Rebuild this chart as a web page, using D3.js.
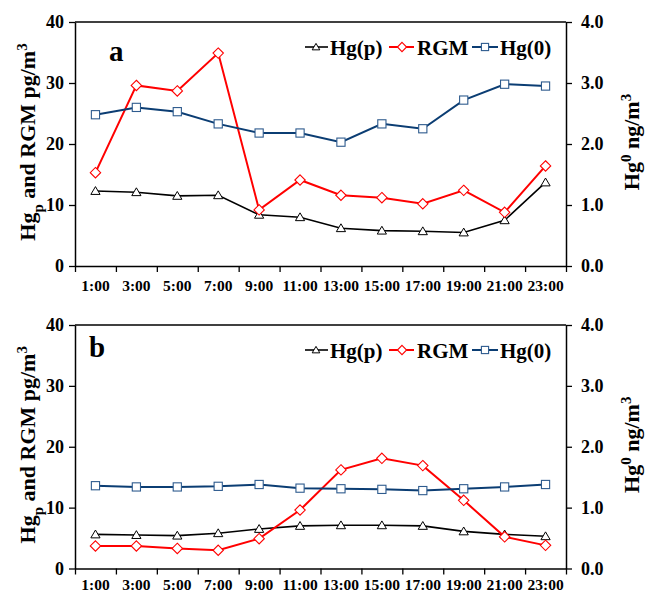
<!DOCTYPE html>
<html><head><meta charset="utf-8">
<script src="https://cdn.jsdelivr.net/npm/d3@7"></script>
<style>
body{margin:0;background:#fff;}
text{font-family:"Liberation Serif","Times New Roman",serif;font-weight:bold;fill:#000;}
</style></head>
<body><svg id="c" width="646" height="594"></svg>
<script>
const hours = ["1:00","3:00","5:00","7:00","9:00","11:00","13:00","15:00","17:00","19:00","21:00","23:00"];
const hgpA = [12.3,12.1,11.5,11.6,8.4,8.0,6.2,5.8,5.7,5.5,7.5,13.7];
const rgmA = [15.3,29.6,28.7,34.9,9.2,14.1,11.6,11.2,10.2,12.4,8.8,16.4];
const hg0A = [2.48,2.60,2.53,2.33,2.18,2.18,2.03,2.33,2.25,2.72,2.98,2.95];
const hgpB = [5.6,5.5,5.4,5.8,6.5,7.0,7.1,7.1,7.0,6.1,5.6,5.3];
const rgmB = [3.7,3.7,3.3,3.0,4.9,9.6,16.2,18.1,16.9,11.2,5.2,3.8];
const hg0B = [1.36,1.34,1.34,1.35,1.38,1.32,1.31,1.30,1.28,1.31,1.34,1.38];
const leftTicks = [0,10,20,30,40];
const rightTicks = [0,1,2,3,4];
const panelLabels = ["a","b"];
const legendNames = ["Hg(p)","RGM","Hg(0)"];

const svg = d3.select("#c");
const X0 = 75, X1 = 566;
const colors = {hgp:"#000", rgm:"#ff0000", hg0:"#0b3d73"};
const markStroke = {hgp:"#000", rgm:"#ff0000", hg0:"#2e5b8e"};

const x = d3.scaleBand().domain(hours).range([X0, X1]);
const xt = d3.scaleLinear().domain([0, hours.length]).range([X0, X1]);

// s = half-size of the marker
function marker(g, type, cx, cy, s) {
  if (type === "hgp") {
    g.append("path").attr("d", `M${cx},${cy - s*0.95}L${cx + s},${cy + s*0.75}L${cx - s},${cy + s*0.75}Z`)
      .attr("fill","#fff").attr("stroke",markStroke.hgp).attr("stroke-width",1);
  } else if (type === "rgm") {
    g.append("path").attr("d", `M${cx},${cy - s}L${cx + s},${cy}L${cx},${cy + s}L${cx - s},${cy}Z`)
      .attr("fill","#fff").attr("stroke",markStroke.rgm).attr("stroke-width",1.1);
  } else {
    g.append("rect").attr("x",cx-s).attr("y",cy-s).attr("width",2*s).attr("height",2*s)
      .attr("fill","#fff").attr("stroke",markStroke.hg0).attr("stroke-width",1.1);
  }
}
const mSize = {hgp:4.6, rgm:5.2, hg0:4.1};
const lSize = {hgp:3.8, rgm:4.6, hg0:3.6};

function panel(top, bottom, label, labX, labY, hgp, rgm, hg0, xpad) {
  const g = svg.append("g");
  const y = d3.scaleLinear().domain([0,40]).range([bottom, top]);
  const y2 = d3.scaleLinear().domain([0,4]).range([bottom, top]);

  g.append("line").attr("x1",X0).attr("x2",X1).attr("y1",top).attr("y2",top).attr("stroke","#000").attr("stroke-width",1.3);

  const la = g.append("g").attr("transform",`translate(${X0},0)`)
    .call(d3.axisLeft(y).tickValues(leftTicks).tickSize(6).tickSizeOuter(0).tickPadding(5));
  la.select(".domain").attr("stroke-width",1.5);
  la.selectAll(".tick line").attr("stroke-width",1.3);
  la.selectAll("text").style("font-size","18px").attr("dy","0.33em");

  const ra = g.append("g").attr("transform",`translate(${X1},0)`)
    .call(d3.axisRight(y2).tickValues(rightTicks).tickFormat(d3.format(".1f")).tickSize(6).tickSizeOuter(0).tickPadding(9));
  ra.select(".domain").attr("stroke-width",1.5);
  ra.selectAll(".tick line").attr("stroke-width",1.3);
  ra.selectAll("text").style("font-size","18px").attr("dy","0.33em");

  const ba = g.append("g").attr("transform",`translate(0,${bottom})`)
    .call(d3.axisBottom(xt).tickValues(d3.range(hours.length+1)).tickSize(6).tickSizeOuter(0).tickFormat(""));
  ba.select(".domain").attr("stroke-width",1.5);
  ba.selectAll(".tick line").attr("stroke-width",1.3);
  const bl = g.append("g").attr("transform",`translate(0,${bottom})`)
    .call(d3.axisBottom(x).tickSize(0).tickPadding(xpad));
  bl.select(".domain").remove();
  bl.selectAll("text").style("font-size","15.5px").attr("dy","0.71em");

  const series = [["hgp",hgp,y],["rgm",rgm,y],["hg0",hg0,y2]];
  series.forEach(([k,vals,sc]) => {
    const line = d3.line().x((d,i)=>x(hours[i])+x.bandwidth()/2).y(d=>sc(d));
    g.append("path").datum(vals).attr("d",line).attr("fill","none")
      .attr("stroke",colors[k]).attr("stroke-width", k==="hgp"?1.6:2);
  });
  series.forEach(([k,vals,sc]) => {
    const mg = g.append("g");
    vals.forEach((v,i)=> marker(mg,k,x(hours[i])+x.bandwidth()/2,sc(v), mSize[k]));
  });

  g.append("text").attr("x",labX).attr("y",labY).style("font-size","29px").text(label);

  const ly = top + 25;
  const items = [
    {k:"hgp", l0:305, l1:328, m:316, t:330, name:legendNames[0]},
    {k:"rgm", l0:389, l1:414, m:402, t:417, name:legendNames[1]},
    {k:"hg0", l0:472, l1:498, m:485, t:500, name:legendNames[2]}
  ];
  items.forEach(it=>{
    g.append("line").attr("x1",it.l0).attr("x2",it.l1).attr("y1",ly).attr("y2",ly)
      .attr("stroke",colors[it.k]).attr("stroke-width",it.k==="hgp"?1.6:2);
    marker(g,it.k,it.m,ly, lSize[it.k]);
    g.append("text").attr("x",it.t).attr("y",ly+8).style("font-size","21px").text(it.name);
  });

  const cy = (top+bottom)/2 - 2;
  const lt = g.append("text").attr("transform",`translate(35,${cy}) rotate(-90)`).attr("text-anchor","middle").style("font-size","22px");
  lt.append("tspan").text("Hg");
  lt.append("tspan").attr("baseline-shift","sub").style("font-size","15px").text("p");
  lt.append("tspan").text(" and RGM pg/m");
  lt.append("tspan").attr("baseline-shift","super").style("font-size","15px").text("3");

  const rt = g.append("text").attr("transform",`translate(639,${cy}) rotate(-90)`).attr("text-anchor","middle").style("font-size","22px");
  rt.append("tspan").text("Hg");
  rt.append("tspan").attr("baseline-shift","super").style("font-size","15px").text("0");
  rt.append("tspan").text(" ng/m");
  rt.append("tspan").attr("baseline-shift","super").style("font-size","15px").text("3");
}

panel(22, 266, panelLabels[0], 109, 61, hgpA, rgmA, hg0A, 14);
panel(325, 568.5, panelLabels[1], 89, 357, hgpB, rgmB, hg0B, 10);
</script></body></html>
